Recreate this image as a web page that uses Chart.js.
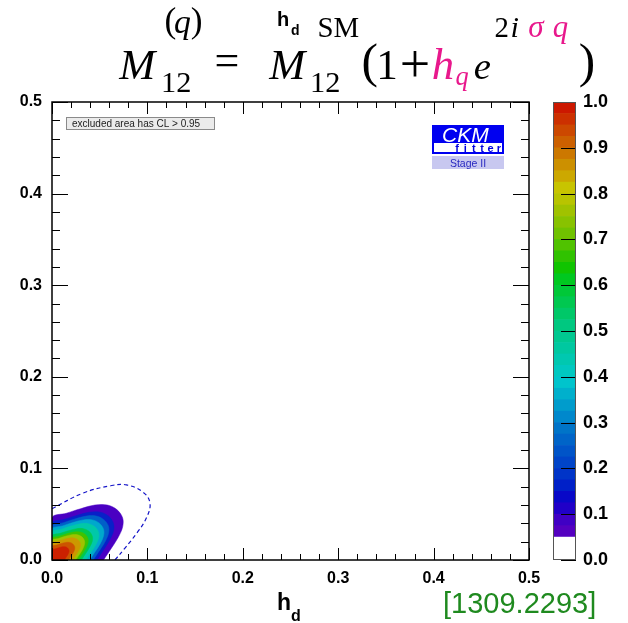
<!DOCTYPE html>
<html><head><meta charset="utf-8">
<script src="https://cdn.jsdelivr.net/npm/chart.js@4/dist/chart.umd.min.js"></script>
<style>
html,body{margin:0;padding:0;background:#fff;overflow:hidden}
#wrap{position:relative;width:628px;height:623px;background:#fff}
canvas{position:absolute;left:0;top:0}
</style></head><body>
<div id="wrap"><canvas id="main" width="628" height="623"></canvas><canvas id="cbar" width="628" height="623"></canvas></div>
<script>
// ---------- data ----------
const xTickValues = [0, 0.1, 0.2, 0.3, 0.4, 0.5];
const xTickLabels = ['0.0', '0.1', '0.2', '0.3', '0.4', '0.5'];
const yTickValues = [0, 0.1, 0.2, 0.3, 0.4, 0.5];
const yTickLabels = ['0.0', '0.1', '0.2', '0.3', '0.4', '0.5'];
const minorTickValues = [0.02,0.04,0.06,0.08,0.12,0.14,0.16,0.18,0.22,0.24,0.26,0.28,0.32,0.34,0.36,0.38,0.42,0.44,0.46,0.48];

const cbTickValues = [0,0.1,0.2,0.3,0.4,0.5,0.6,0.7,0.8,0.9,1.0];
const cbTickLabels = ['0.0','0.1','0.2','0.3','0.4','0.5','0.6','0.7','0.8','0.9','1.0'];
const cbEdges = [0,0.05,0.075,0.1,0.125,0.15,0.175,0.2,0.225,0.25,0.275,0.3,0.325,0.35,0.375,0.4,0.425,0.45,0.475,0.5,0.525,0.55,0.575,0.6,0.625,0.65,0.675,0.7,0.725,0.75,0.775,0.8,0.825,0.85,0.875,0.9,0.925,0.95,0.975,1.0];
const cbColors = ['#ffffff',
  '#5400c0','#4000c4','#2000c8','#0808c8','#0020c8','#0034c8','#0044c8','#0054c8','#0064c8','#0074c8',
  '#0088cc','#009ccc','#00b0cc','#00c4cc','#00c8c0','#00c8b0','#00c8a0','#00c890','#00c880','#00c868',
  '#00c850','#00c838','#00c820','#10c400','#30c200','#50c200','#70c200','#88c200','#a0c200','#b8c400',
  '#c8c400','#cca800','#cc9000','#cc7800','#cc6000','#cc4800','#cc3000','#cc1800'];

// CL contours in the (h_d, sigma) plane
const clLevels = [0.05, 0.1, 0.2, 0.3, 0.4, 0.5, 0.6, 0.7, 0.8, 0.9, 0.95];
const clColors = ['#4a00c2','#0820c8','#0060c8','#00a8cc','#00c8a8','#00c850','#40c200','#a0c200','#cc9800','#cc5400','#cc2000'];
const cl05 = [[0,0],[0,0.046],[0.015,0.051],[0.03,0.056],[0.045,0.060],[0.058,0.060],[0.068,0.055],[0.074,0.046],[0.074,0.036],[0.069,0.024],[0.061,0.011],[0.054,0]];
const cl10 = [[0,0],[0,0.040],[0.013,0.0444],[0.0261,0.0487],[0.0392,0.0522],[0.0505,0.0522],[0.0592,0.0479],[0.0644,0.040],[0.0644,0.0313],[0.060,0.0209],[0.0531,0.0096],[0.047,0]];
const cl20 = [[0,0],[0,0.0368],[0.012,0.0408],[0.024,0.0448],[0.036,0.048],[0.0464,0.048],[0.0544,0.044],[0.0592,0.0368],[0.0592,0.0288],[0.0552,0.0192],[0.0488,0.0088],[0.0432,0]];
const cl30 = [[0,0],[0,0.0336],[0.011,0.0372],[0.0219,0.0409],[0.0329,0.0438],[0.0423,0.0438],[0.0496,0.0402],[0.054,0.0336],[0.054,0.0263],[0.0504,0.0175],[0.0445,0.008],[0.0394,0]];
const cl40 = [[0,0],[0,0.0304],[0.0099,0.0337],[0.0198,0.037],[0.0297,0.0396],[0.0383,0.0396],[0.0449,0.0363],[0.0488,0.0304],[0.0488,0.0238],[0.0455,0.0158],[0.0403,0.0073],[0.0356,0]];
const cl50 = [[0,0],[0,0.0262],[0.0086,0.0291],[0.0171,0.0319],[0.0257,0.0342],[0.0331,0.0342],[0.0388,0.0314],[0.0422,0.0262],[0.0422,0.0205],[0.0393,0.0137],[0.0348,0.0063],[0.0308,0]];
const cl60 = [[0,0],[0,0.0235],[0.0077,0.026],[0.0153,0.0286],[0.023,0.0306],[0.0296,0.0306],[0.0347,0.0281],[0.0377,0.0235],[0.0377,0.0184],[0.0352,0.0122],[0.0311,0.0056],[0.0275,0]];
const cl70 = [[0,0],[0,0.0212],[0.0069,0.0235],[0.0138,0.0258],[0.0207,0.0276],[0.0267,0.0276],[0.0313,0.0253],[0.034,0.0212],[0.034,0.0166],[0.0317,0.011],[0.0281,0.0051],[0.0248,0]];
const cl80 = [[0,0],[0,0.0184],[0.006,0.0204],[0.012,0.0224],[0.018,0.024],[0.0232,0.024],[0.0272,0.022],[0.0296,0.0184],[0.0296,0.0144],[0.0276,0.0096],[0.0244,0.0044],[0.0216,0]];
const cl90 = [[0,0],[0,0.0147],[0.0048,0.0163],[0.0096,0.0179],[0.0144,0.0192],[0.0186,0.0192],[0.0218,0.0176],[0.0237,0.0147],[0.0237,0.0115],[0.0221,0.0077],[0.0195,0.0035],[0.0173,0]];
const cl95 = [[0,0],[0,0.011],[0.0036,0.0122],[0.0072,0.0134],[0.0108,0.0144],[0.0139,0.0144],[0.0163,0.0132],[0.0178,0.011],[0.0178,0.0086],[0.0166,0.0058],[0.0146,0.0026],[0.013,0]];
const clContours = [cl05, cl10, cl20, cl30, cl40, cl50, cl60, cl70, cl80, cl90, cl95];
const dashedContour = [[0,0.056],[0.0325,0.073],[0.061,0.081],[0.078,0.082],[0.0955,0.074],[0.1027,0.062],[0.099,0.046],[0.089,0.0295],[0.0765,0.013],[0.066,0]];

// ---------- helpers ----------
const SANS = '"Liberation Sans", Arial, Helvetica, sans-serif';
const SERIF = '"Liberation Serif", "Times New Roman", serif';
const toPts = arr => arr.map(p => ({x: p[0], y: p[1]}));

function txt(ctx, s, x, y, font, color, align) {
  ctx.font = font; ctx.fillStyle = color || '#000';
  ctx.textAlign = align || 'left'; ctx.textBaseline = 'alphabetic';
  ctx.fillText(s, x, y);
}
// draw a glyph scaled uniformly so its ink height fills [y0,y1], centred on [x0,x1]
function fitBox(ctx, s, x0, x1, y0, y1, font, color) {
  ctx.font = font; ctx.textAlign = 'left'; ctx.textBaseline = 'alphabetic';
  const m = ctx.measureText(s);
  const w = m.actualBoundingBoxLeft + m.actualBoundingBoxRight;
  const h = m.actualBoundingBoxAscent + m.actualBoundingBoxDescent;
  const sc = (y1 - y0) / h;
  const cx = (x0 + x1) / 2 - w * sc / 2;
  ctx.save();
  ctx.translate(cx, y0); ctx.scale(sc, sc);
  ctx.fillStyle = color || '#000';
  ctx.fillText(s, m.actualBoundingBoxLeft, m.actualBoundingBoxAscent);
  ctx.restore();
}

const mainDecor = {
  id: 'mainDecor',
  afterDraw(chart) {
    const {ctx, chartArea: a, scales: {x, y}} = chart;
    ctx.save();
    ctx.strokeStyle = '#000'; ctx.lineWidth = 1;
    const seg = (x1, y1, x2, y2) => { ctx.beginPath(); ctx.moveTo(x1, y1); ctx.lineTo(x2, y2); ctx.stroke(); };
    xTickValues.forEach(v => { const p = Math.round(x.getPixelForValue(v)) + 0.5; seg(p, a.bottom, p, a.bottom - 12); seg(p, a.top, p, a.top + 12); });
    minorTickValues.forEach(v => { const p = Math.round(x.getPixelForValue(v)) + 0.5; seg(p, a.bottom, p, a.bottom - 6); seg(p, a.top, p, a.top + 6); });
    yTickValues.forEach(v => { const p = Math.round(y.getPixelForValue(v)) + 0.5; seg(a.left, p, a.left + 16, p); seg(a.right, p, a.right - 16, p); });
    minorTickValues.forEach(v => { const p = Math.round(y.getPixelForValue(v)) + 0.5; seg(a.left, p, a.left + 8, p); seg(a.right, p, a.right - 8, p); });
    ctx.lineWidth = 1.5;
    ctx.strokeRect(a.left, a.top, a.right - a.left, a.bottom - a.top);

    // legend box
    ctx.fillStyle = '#ebebeb'; ctx.fillRect(66.5, 117.5, 148, 12);
    ctx.lineWidth = 1; ctx.strokeStyle = '#8a8a8a'; ctx.strokeRect(66.5, 117.5, 148, 12);
    txt(ctx, 'excluded area has CL > 0.95', 72, 127, '10px ' + SANS, '#222');

    // CKMfitter logo
    ctx.fillStyle = '#0000f0'; ctx.fillRect(432, 125, 72, 29);
    ctx.fillStyle = '#ffffff'; ctx.fillRect(434, 143, 68, 9);
    txt(ctx, 'CKM', 442, 141.5, 'italic 21px ' + SANS, '#ffffff');
    ctx.font = 'bold 11px ' + SANS; ctx.fillStyle = '#0000e0'; ctx.textAlign = 'center';
    ['f','i','t','t','e','r'].forEach((c, i) => ctx.fillText(c, 457 + i * 8.4, 151.5));
    ctx.fillStyle = '#c8c8f0'; ctx.fillRect(432, 156, 72, 13);
    txt(ctx, 'Stage II', 468, 166.5, '10.5px ' + SANS, '#2828c0', 'center');

    // titles
    txt(ctx, 'h', 277, 26, 'bold 20px ' + SANS, '#000');
    txt(ctx, 'd', 291, 35, 'bold 14px ' + SANS, '#000');
    txt(ctx, 'h', 277, 610, 'bold 23px ' + SANS, '#000');
    txt(ctx, 'd', 291, 621, 'bold 16px ' + SANS, '#000');
    txt(ctx, '[1309.2293]', 443, 613, '29px ' + SANS, '#1f8a1f');

    // formula  M12^(q) = M12^SM (1 + h_q e^{2i sigma_q})
    const MAG = '#e8188c';
    const R = '44px ' + SERIF, I = 'italic 44px ' + SERIF;
    fitBox(ctx, 'M', 113, 163, 50, 78.5, I);
    fitBox(ctx, '(', 167, 174, 7, 40, R);
    fitBox(ctx, 'q', 175, 190, 17, 40, I);
    fitBox(ctx, ')', 193, 200, 7, 40, R);
    fitBox(ctx, '12', 165, 188, 72, 92, R);
    fitBox(ctx, '=', 207, 247, 55, 67, R);
    fitBox(ctx, 'M', 263, 313, 50, 78.5, I);
    fitBox(ctx, 'SM', 317, 360, 18, 37, R);
    fitBox(ctx, '12', 313, 338, 72, 92, R);
    fitBox(ctx, '(', 363, 377, 42, 88, R);
    fitBox(ctx, '1', 382, 393, 50, 78.5, R);
    fitBox(ctx, '+', 400, 430, 50, 77, R);
    fitBox(ctx, 'h', 433, 453, 47, 78.5, I, MAG);
    fitBox(ctx, 'q', 454, 470, 72, 90, I, MAG);
    fitBox(ctx, 'e', 473, 492, 60, 78.5, I);
    fitBox(ctx, '2', 495, 508, 18, 37, R);
    fitBox(ctx, 'i', 510, 520, 17, 37, I);
    fitBox(ctx, 'σ', 526, 548, 20, 37, I, MAG);
    fitBox(ctx, 'q', 550, 571, 22, 43, I, MAG);
    fitBox(ctx, ')', 580, 593, 42, 88, R);
    ctx.restore();
  }
};

const datasets = [];
clContours.forEach((c, i) => {
  datasets.push({
    label: 'CL ' + clLevels[i], data: toPts(c), showLine: true, fill: 'shape',
    backgroundColor: clColors[i], borderColor: clColors[i], borderWidth: 0.5,
    pointRadius: 0, tension: 0.35, order: 100 - i
  });
});
datasets.push({
  label: 'dashed', data: toPts(dashedContour), showLine: true, fill: false,
  borderColor: '#1414c8', borderWidth: 1.2, borderDash: [4, 3],
  pointRadius: 0, tension: 0.4, order: 0
});

const tickFont = {family: SANS, weight: 'bold', size: 16};

new Chart(document.getElementById('main'), {
  type: 'scatter',
  data: {datasets},
  options: {
    responsive: false, animation: false, devicePixelRatio: 1,
    layout: {padding: {top: 102, right: 99, left: 0, bottom: 0}},
    plugins: {legend: {display: false}, tooltip: {enabled: false}},
    scales: {
      x: {
        type: 'linear', min: 0, max: 0.5,
        afterFit: s => { s.height = 63; },
        afterBuildTicks: s => { s.ticks = xTickValues.map(v => ({value: v})); },
        grid: {display: false, drawTicks: false}, border: {display: false},
        ticks: {padding: 9, font: tickFont, color: '#000', maxRotation: 0, autoSkip: false,
                callback: (v, i) => xTickLabels[i]}
      },
      y: {
        type: 'linear', min: 0, max: 0.5,
        afterFit: s => { s.width = 52; },
        afterBuildTicks: s => { s.ticks = yTickValues.map(v => ({value: v})); },
        grid: {display: false, drawTicks: false}, border: {display: false},
        ticks: {padding: 10, font: tickFont, color: '#000', autoSkip: false,
                callback: (v, i) => yTickLabels[i]}
      }
    }
  },
  plugins: [mainDecor]
});

// ---------- colour bar ----------
const cbDecor = {
  id: 'cbDecor',
  afterDraw(chart) {
    const {ctx, chartArea: a, scales: {y}} = chart;
    ctx.save();
    ctx.strokeStyle = '#000'; ctx.lineWidth = 1;
    cbTickValues.forEach(v => {
      const p = Math.round(y.getPixelForValue(v)) + 0.5;
      ctx.beginPath(); ctx.moveTo(a.right, p); ctx.lineTo(a.right - 15, p); ctx.stroke();
    });
    ctx.strokeStyle = '#555';
    ctx.strokeRect(Math.round(a.left) + 0.5, Math.round(a.top) + 0.5, Math.round(a.right - a.left) - 1, Math.round(a.bottom - a.top) - 1);
    ctx.restore();
  }
};

const cbDatasets = cbColors.map((c, i) => ({
  label: 'band' + i, data: [[cbEdges[i], cbEdges[i + 1]]],
  backgroundColor: c, borderColor: c, borderWidth: 0, grouped: false,
  barPercentage: 1, categoryPercentage: 1
}));

new Chart(document.getElementById('cbar'), {
  type: 'bar',
  data: {labels: [''], datasets: cbDatasets},
  options: {
    responsive: false, animation: false, devicePixelRatio: 1,
    layout: {padding: {top: 102, right: 0, left: 553, bottom: 63}},
    plugins: {legend: {display: false}, tooltip: {enabled: false}},
    scales: {
      x: {display: false},
      y: {
        position: 'right', min: 0, max: 1,
        afterFit: s => { s.width = 52; },
        afterBuildTicks: s => { s.ticks = cbTickValues.map(v => ({value: v})); },
        grid: {display: false, drawTicks: false}, border: {display: false},
        ticks: {padding: 7, font: {family: SANS, weight: 'bold', size: 18}, color: '#000', autoSkip: false,
                callback: (v, i) => cbTickLabels[i]}
      }
    }
  },
  plugins: [cbDecor]
});
</script>
</body></html>
